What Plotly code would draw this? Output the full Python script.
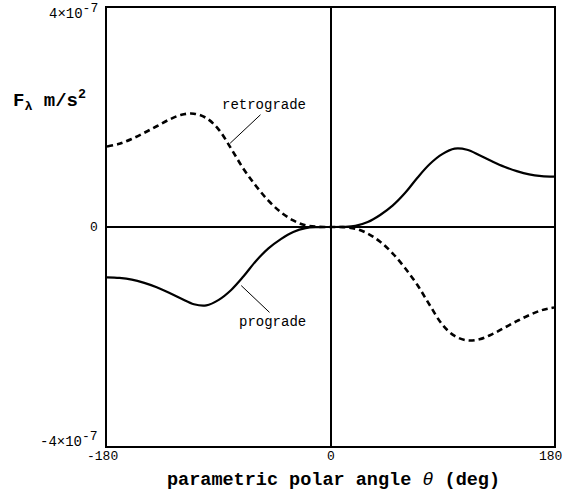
import plotly.graph_objects as go

# polar angle theta (deg)
theta = [-180, -170, -160, -150, -140, -130, -120, -110, -100, -90, -80, -70, -60, -50, -40, -30, -20, -10,
         0, 10, 20, 30, 40, 50, 60, 70, 80, 90, 100, 110, 120, 130, 140, 150, 160, 170, 180]

# values in units of 1e-7 m/s^2
prograde = [-0.92, -0.93, -0.96, -1.02, -1.10, -1.20, -1.31, -1.41, -1.43, -1.33, -1.15, -0.90, -0.62, -0.39,
            -0.22, -0.09, -0.02, -0.003,
            0.0, 0.003, 0.02, 0.09, 0.22, 0.39, 0.62, 0.90, 1.15, 1.33, 1.43, 1.41, 1.31, 1.20, 1.10, 1.02,
            0.96, 0.93, 0.92]
retrograde = [1.47, 1.52, 1.61, 1.72, 1.84, 1.96, 2.05, 2.07, 1.99, 1.78, 1.43, 1.06, 0.75, 0.48, 0.27, 0.12,
              0.03, 0.003,
              0.0, -0.003, -0.03, -0.12, -0.27, -0.48, -0.75, -1.06, -1.43, -1.78, -1.99, -2.07, -2.05, -1.96,
              -1.84, -1.72, -1.61, -1.52, -1.47]
UNIT = 1e-7

x_ticks = [-180, 0, 180]
x_tick_text = ["-180", "0", "180"]
y_ticks = [4, 0, -4]
y_tick_text = ["4×10<sup><span style='font-size:13px'>-7</span></sup>", "0",
               "-4×10<sup><span style='font-size:13px'>-7</span></sup>"]

MONO = "Liberation Mono, Courier New, monospace"

fig = go.Figure()
fig.add_trace(go.Scatter(x=theta, y=[v * UNIT for v in retrograde], mode="lines",
                         line=dict(color="black", width=2.6, dash="6px,4px", shape="spline", smoothing=1.0),
                         showlegend=False, hoverinfo="skip"))
fig.add_trace(go.Scatter(x=theta, y=[v * UNIT for v in prograde], mode="lines",
                         line=dict(color="black", width=2.2, shape="spline", smoothing=1.0),
                         showlegend=False, hoverinfo="skip"))

L, R, T, B = 107, 8, 6, 51
W, H = 562, 497
pw, ph = W - L - R, H - T - B

def px(xp):
    return (xp - L) / pw

def py(yp):
    return (H - B - yp) / ph

ann = []
# y tick labels
y_tick_pix = {4: 10, 0: 226, -4: 439}
for v, t in zip(y_ticks, y_tick_text):
    ann.append(dict(x=px(100), y=py(y_tick_pix[v]), xref="paper", yref="paper", text=t, showarrow=False,
                    xanchor="right", yanchor="middle",
                    font=dict(family=MONO, size=14 if v != 0 else 13, color="black")))
# x tick labels
x_shift = {-180: -5, 0: 0, 180: -4}
for v, t in zip(x_ticks, x_tick_text):
    ann.append(dict(x=v, y=py(457), xref="x", yref="paper", text=t, showarrow=False, xshift=x_shift[v],
                    xanchor="center", yanchor="middle", font=dict(family=MONO, size=13, color="black")))
# axis titles
ann.append(dict(x=px(333), y=py(481), xref="paper", yref="paper",
                text="<b>parametric polar angle </b><i>θ</i><b> (deg)</b>", showarrow=False,
                xanchor="center", yanchor="middle", font=dict(family=MONO, size=18.5, color="black")))
ann.append(dict(x=px(11), y=py(99), xref="paper", yref="paper",
                text="<b>F<sub>λ</sub> m/s<sup>2</sup></b>", showarrow=False,
                xanchor="left", yanchor="middle", font=dict(family=MONO, size=19, color="black")))
# curve labels
ann.append(dict(x=-53.2, y=2.22 * UNIT, xref="x", yref="y", text="retrograde", showarrow=False,
                xanchor="center", yanchor="middle", font=dict(family=MONO, size=14, color="black")))
ann.append(dict(x=-46.7, y=-1.73 * UNIT, xref="x", yref="y", text="prograde", showarrow=False,
                xanchor="center", yanchor="middle", font=dict(family=MONO, size=14, color="black")))

shapes = [
    dict(type="line", xref="x", yref="y", x0=-56.4, y0=2.05 * UNIT, x1=-80.8, y1=1.53 * UNIT,
         line=dict(color="black", width=1)),
    dict(type="line", xref="x", yref="y", x0=-49.1, y0=-1.56 * UNIT, x1=-71.9, y1=-1.07 * UNIT,
         line=dict(color="black", width=1)),
]

fig.update_layout(
    width=W, height=H,
    margin=dict(l=L, r=R, t=T, b=B),
    paper_bgcolor="white", plot_bgcolor="white",
    annotations=ann, shapes=shapes,
    xaxis=dict(range=[-180, 180], showgrid=False, showticklabels=False, ticks="",
               showline=True, mirror=True, linecolor="black", linewidth=1.5,
               zeroline=True, zerolinecolor="black", zerolinewidth=1.5),
    yaxis=dict(range=[-4 * UNIT, 4 * UNIT], showgrid=False, showticklabels=False, ticks="",
               showline=True, mirror=True, linecolor="black", linewidth=1.5,
               zeroline=True, zerolinecolor="black", zerolinewidth=1.5),
)

fig.write_html("out.html", config={"displayModeBar": False},
               post_script="document.body.style.margin='0';document.body.style.padding='0';")
